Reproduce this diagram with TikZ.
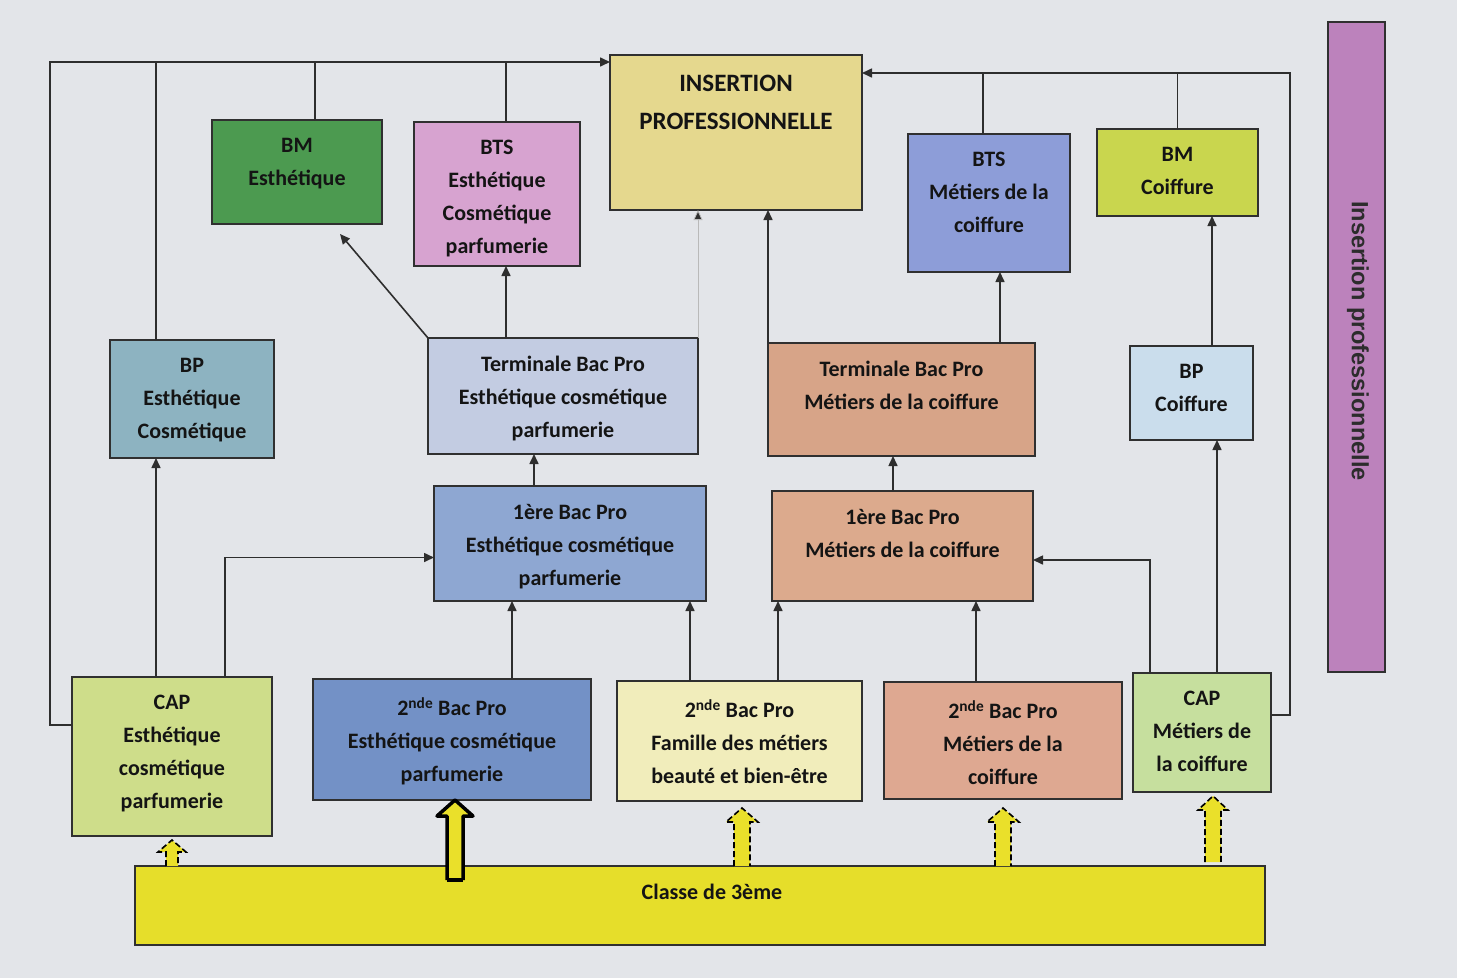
\documentclass[tikz,border=0pt]{standalone}
\usepackage{fontspec}
\setmainfont{Carlito}
\newfontfamily\vfont{Liberation Sans}
\usetikzlibrary{arrows.meta,calc}
\definecolor{paper}{HTML}{E3E5E9}
\definecolor{ink}{HTML}{141414}
\definecolor{boxline}{HTML}{303030}
\definecolor{lineclr}{HTML}{2E2E2E}
\definecolor{cIns}{HTML}{E5D88E}
\definecolor{cBmE}{HTML}{4C9A50}
\definecolor{cBtsE}{HTML}{D7A3D0}
\definecolor{cBtsM}{HTML}{8D9DD8}
\definecolor{cBmC}{HTML}{C9D64E}
\definecolor{cBpE}{HTML}{8DB3C1}
\definecolor{cTermE}{HTML}{C3CCE2}
\definecolor{cTermM}{HTML}{D7A488}
\definecolor{cBpC}{HTML}{CADDEC}
\definecolor{cEreE}{HTML}{8EA7D2}
\definecolor{cEreM}{HTML}{DCAA8D}
\definecolor{cCapE}{HTML}{CEDD8A}
\definecolor{cNdE}{HTML}{7391C6}
\definecolor{cNdF}{HTML}{F1EDBB}
\definecolor{cNdM}{HTML}{DEA891}
\definecolor{cCapM}{HTML}{C6DF9E}
\definecolor{cClasse}{HTML}{E6DE2A}
\definecolor{cBar}{HTML}{BC82BC}
\definecolor{arrfill}{HTML}{EAE02A}
\tikzset{
  box/.style={draw=boxline, line width=2pt, inner sep=0pt, outer sep=0pt},
  txt/.style={align=center, inner sep=0pt, font=\bfseries\fontsize{22}{33}\selectfont, text=ink},
  conn/.style={draw=lineclr, line width=1.6pt},
  arr/.style={conn, -{Triangle[length=10pt,width=9pt]}},
  faint/.style={draw=gray!55, line width=0.8pt, -{Triangle[length=10pt,width=9pt,fill=lineclr]}},
  dashout/.style={draw=black, line width=1.6pt, dash pattern=on 6pt off 3pt},
  solidout/.style={draw=black, line width=3.5pt, line join=round},
}
\newcommand\cbox[7]{%
  \node[box, fill=#6, minimum width={#4-#2}, minimum height={#5-#3}] (#1) at ({(#2+#4)/2},{(#3+#5)/2}) {};
  \node[txt, anchor=north] (#1t) at ([yshift=-18pt]#1.north) {#7};}
\newcommand\fatarr[7]{%
  \fill[arrfill] (#1-#4,#2) -- (#1-#4,#3+#6) -- (#1-#5,#3+#6) -- (#1,#3) -- (#1+#5,#3+#6) -- (#1+#4,#3+#6) -- (#1+#4,#2) -- cycle;
  \draw[#7] (#1-#4,#2) -- (#1-#4,#3+#6) -- (#1-#5,#3+#6) -- (#1,#3) -- (#1+#5,#3+#6) -- (#1+#4,#3+#6) -- (#1+#4,#2);}
\begin{document}
\begin{tikzpicture}[x=1pt,y=-1pt]
\useasboundingbox (0,0) rectangle (1457,978);
\fill[paper] (0,0) rectangle (1457,978);

% boxes
\cbox{ins}{610}{55}{862}{210}{cIns}{}
\node[txt, anchor=north, font=\bfseries\fontsize{25}{38}\selectfont] (inst) at ([yshift=-20pt]ins.north) {INSERTION\\PROFESSIONNELLE};
\cbox{bmE}{212}{120}{382}{224}{cBmE}{BM\\Esthétique}
\cbox{btsE}{414}{122}{580}{266}{cBtsE}{BTS\\Esthétique\\Cosmétique\\parfumerie}
\cbox{btsM}{908}{134}{1070}{272}{cBtsM}{BTS\\Métiers de la\\coiffure}
\cbox{bmC}{1097}{129}{1258}{216}{cBmC}{BM\\Coiffure}
\cbox{bpE}{110}{340}{274}{458}{cBpE}{BP\\Esthétique\\Cosmétique}
\cbox{termE}{428}{338}{698}{454}{cTermE}{Terminale Bac Pro\\Esthétique cosmétique\\parfumerie}
\cbox{termM}{768}{343}{1035}{456}{cTermM}{Terminale Bac Pro\\Métiers de la coiffure}
\cbox{bpC}{1130}{346}{1253}{440}{cBpC}{BP\\Coiffure}
\cbox{ereE}{434}{486}{706}{601}{cEreE}{1ère Bac Pro\\Esthétique cosmétique\\parfumerie}
\cbox{ereM}{772}{491}{1033}{601}{cEreM}{1ère Bac Pro\\Métiers de la coiffure}
\cbox{capE}{72}{677}{272}{836}{cCapE}{CAP\\Esthétique\\cosmétique\\parfumerie}
\cbox{ndE}{313}{679}{591}{800}{cNdE}{2\textsuperscript{nde} Bac Pro\\Esthétique cosmétique\\parfumerie}
\cbox{ndF}{617}{681}{862}{801}{cNdF}{2\textsuperscript{nde} Bac Pro\\Famille des métiers\\beauté et bien-être}
\cbox{ndM}{884}{682}{1122}{799}{cNdM}{2\textsuperscript{nde} Bac Pro\\Métiers de la\\coiffure}
\cbox{capM}{1133}{673}{1271}{792}{cCapM}{CAP\\Métiers de\\la coiffure}
\node[box, fill=cClasse, minimum width=1130pt, minimum height=79pt] (classe) at (700,905.5) {};
\node[txt, anchor=north] (classet) at ([xshift=12pt,yshift=-18pt]classe.north) {Classe de 3ème};

% vertical bar
\node[draw=boxline, line width=1.5pt, fill=cBar, minimum width=57pt, minimum height=650pt, inner sep=0pt] (bar) at (1356.5,347) {};
\node[rotate=-90, font=\vfont\bfseries\fontsize{23.5}{27}\selectfont, text=ink!90, inner sep=0pt] (bart) at (1358,341) {Insertion professionnelle};

% helper coordinates
\coordinate (topL) at (0,62);
\coordinate (topR) at (0,73);
\coordinate (bpEa) at ([xshift=-36pt]bpE.north);
\coordinate (capEa) at ([xshift=-16pt]capE.north);
\coordinate (capEb) at ([xshift=53pt]capE.north);
\coordinate (bmEa) at ([xshift=18pt]bmE.north);
\coordinate (bmEb) at ([xshift=43pt,yshift=-10pt]bmE.south);
\coordinate (btsEa) at ([xshift=9pt]btsE.north);
\coordinate (termEa) at ([xshift=-57pt]termE.north);
\coordinate (ereEw) at ([yshift=-14pt]ereE.west);
\coordinate (ereEa) at ([xshift=-36pt]ereE.north);
\coordinate (ndEa) at ([xshift=60pt]ndE.north);
\coordinate (ndFa) at ([xshift=-49.5pt]ndF.north);
\coordinate (ndFb) at ([xshift=38.5pt]ndF.north);
\coordinate (ndMa) at ([xshift=-27pt]ndM.north);
\coordinate (capMa) at ([xshift=-52pt]capM.north);
\coordinate (capMb) at ([xshift=15pt]capM.north);
\coordinate (capMe) at ([yshift=-42pt]capM.north east);
\coordinate (ereMe) at ([yshift=-14pt]ereM.east);
\coordinate (ereMa) at ([xshift=-9.5pt]ereM.north);
\coordinate (termMa) at ([xshift=98.5pt]termM.north);
\coordinate (btsMa) at ([xshift=-6pt]btsM.north);
\coordinate (bpCa) at ([xshift=20.5pt]bpC.north);

% connectors to top
\draw[arr] ([yshift=-48pt]capE.north west) -- ++(-22,0) |- (ins.west |- topL);
\draw[conn] (bpEa) -- (bpEa |- topL);
\draw[conn] (bmEa) -- (bmEa |- topL);
\draw[conn] (btsEa) -- (btsEa |- topL);
\draw[arr] (capMe) -- ++(19,0) |- (ins.east |- topR);
\draw[conn] (btsMa) -- (btsMa |- topR);
\draw[conn] (bmC.north) -- (bmC.north |- topR);

% upward arrows
\draw[arr] (capEa) -- (capEa |- bpE.south);
\draw[arr] (capEb) |- (ereEw);
\draw[arr] (ndEa) -- (ndEa |- ereE.south);
\draw[arr] (ndFa) -- (ndFa |- ereE.south);
\draw[arr] (ndFb) -- (ndFb |- ereM.south);
\draw[arr] (ndMa) -- (ndMa |- ereM.south);
\draw[arr] (capMa) |- (ereMe);
\draw[arr] (capMb) -- (capMb |- bpC.south);
\draw[arr] (ereEa) -- (ereEa |- termE.south);
\draw[arr] (ereMa) -- (ereMa |- termM.south);
\draw[arr] (termEa) -- (termEa |- btsE.south);
\draw[arr] (termE.north west) -- (bmEb);
\draw[arr] (termM.north west) -- (termM.north west |- ins.south);
\draw[faint] (termE.north east) -- (termE.north east |- ins.south);
\draw[arr] (termMa) -- (termMa |- btsM.south);
\draw[arr] (bpCa) -- (bpCa |- bmC.south);

% fat arrows from Classe de 3eme
\fatarr{172}{866}{840}{6}{14}{12}{dashout}
\fatarr{455}{880}{800}{8}{18}{16}{solidout}
\draw[solidout] (447,880) -- (463,880);
\fatarr{742}{866}{808}{8}{16}{14}{dashout}
\fatarr{1003}{866}{808}{8}{16}{14}{dashout}
\fatarr{1213}{862}{796}{8}{15}{14}{dashout}
\end{tikzpicture}
\end{document}
